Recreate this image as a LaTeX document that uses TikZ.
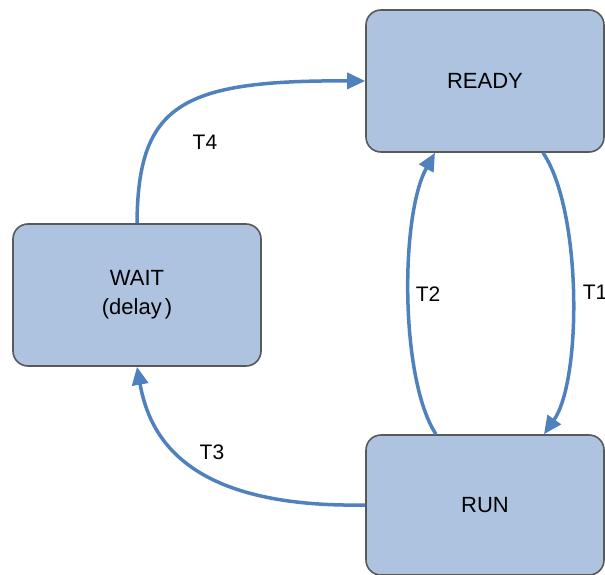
\documentclass[tikz,border=0pt]{standalone}
\usepackage{fontspec}
\setmainfont{Liberation Sans}
\usetikzlibrary{arrows.meta}
\definecolor{boxfill}{HTML}{AEC3E0}
\definecolor{boxline}{HTML}{595959}
\definecolor{edgeblue}{HTML}{4F81BD}
\tikzset{
  statebox/.style={draw=boxline, fill=boxfill, line width=1.6pt, rounded corners=15pt,
    inner sep=0pt, align=center, font=\fontsize{22}{29}\selectfont},
  trans/.style={draw=edgeblue, line width=3.5pt, -{Triangle[length=18pt,width=16pt]}},
  tlabel/.style={font=\fontsize{21}{25}\selectfont, inner sep=0pt}
}
\begin{document}
\begin{tikzpicture}[x=1pt,y=-1pt]
\useasboundingbox (0,0) rectangle (605,575);
\node[statebox, minimum width=238pt, minimum height=142pt] (ready) at (485,81) {READY};
\node[statebox, minimum width=238pt, minimum height=140pt] (run) at (485,505) {RUN};
\node[statebox, minimum width=248pt, minimum height=142pt] (wait) at (137,295) {WAIT\\(delay\kern3pt)};
\draw[trans] (wait.north) .. controls (138,105) and (180,80) .. (ready.west);
\draw[trans] (run.west) .. controls (190,508) and (150,440) .. (wait.south);
\draw[trans] ([xshift=-49pt]run.north) .. controls (400,380) and (400,215) .. ([xshift=-50pt]ready.south);
\draw[trans] ([xshift=58pt]ready.south) .. controls (582,210) and (582,380) .. ([xshift=59pt]run.north);
\node[tlabel] (t4) at (205,142) {T4};
\node[tlabel] (t3) at (212,452) {T3};
\node[tlabel] (t2) at (428,294) {T2};
\node[tlabel] (t1) at (595,292) {T1};
\end{tikzpicture}
\end{document}
